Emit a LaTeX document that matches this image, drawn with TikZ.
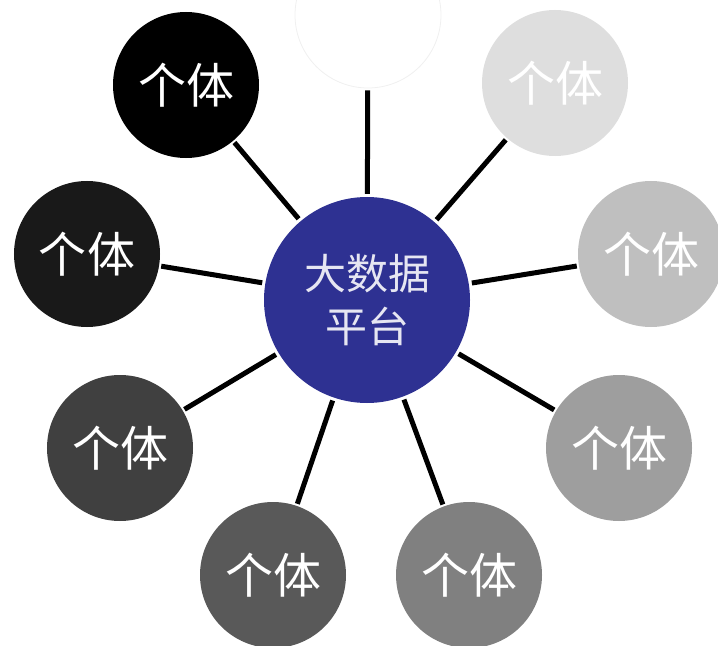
\documentclass[tikz,border=0pt]{standalone}
\usepackage{fontspec}
\newfontfamily\cjk{Noto Sans CJK SC}
\definecolor{hubblue}{HTML}{2E3192}
\tikzset{
  member/.style={circle, minimum size=146bp, inner sep=0pt, text=white,
    font=\cjk\fontsize{48bp}{52bp}\selectfont},
  hub/.style={circle, minimum size=206bp, inner sep=0pt, fill=hubblue,
    text=white!88!hubblue, align=center,
    font=\cjk\fontsize{42bp}{53bp}\selectfont},
  link/.style={line width=5bp, black}
}
\begin{document}
\begin{tikzpicture}[x=1bp,y=-1bp]
\useasboundingbox (0,0) rectangle (718,646);
\clip (0,0) rectangle (718,646);
\node[hub] (c) at (367,300) {大数据\\平台};
\node[member, fill=white, draw=black!6, line width=0.8bp] (n0) at (368,15) {};
\node[member, fill=black] (n1) at (186,85) {个体};
\node[member, fill=black!90] (n2) at (87,254) {个体};
\node[member, fill=black!75] (n3) at (120,448) {个体};
\node[member, fill=black!65] (n4) at (273,575) {个体};
\node[member, fill=black!50] (n5) at (469,575) {个体};
\node[member, fill=black!38] (n6) at (619,448) {个体};
\node[member, fill=black!25] (n7) at (651,254) {个体};
\node[member, fill=black!13] (n8) at (555,83) {个体};
\foreach \n in {n0,n1,n2,n3,n4,n5,n6,n7,n8}
  \draw[link, shorten <=3bp, shorten >=2bp] (c) -- (\n);
\end{tikzpicture}
\end{document}
